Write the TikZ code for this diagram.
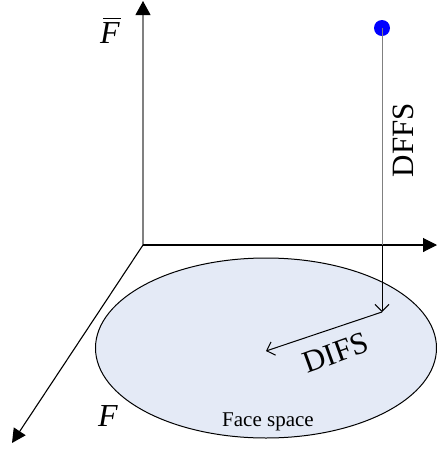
\documentclass[tikz,border=0pt]{standalone}
\usepackage{fontspec}
\setmainfont{Liberation Serif}
\usetikzlibrary{arrows.meta,shapes.geometric}
\definecolor{facefill}{RGB}{228,234,246}
\definecolor{axisgray}{RGB}{128,128,128}
\tikzset{
  axis/.style={line width=1.1pt,-{Triangle[length=14pt,width=14pt]}},
  meas/.style={line width=1pt,-{Straight Barb[length=7pt,width=14pt]}},
  lbl/.style={font=\fontsize{31}{34}\selectfont,inner sep=0pt},
  mlbl/.style={font=\fontsize{32}{34}\selectfont\itshape,inner sep=0pt},
}
\begin{document}
\begin{tikzpicture}[x=1pt,y=-1pt]
\useasboundingbox (0,0) rectangle (437,451);
\node[draw=black,line width=1pt,fill=facefill,ellipse,minimum width=341pt,minimum height=180pt,inner sep=0pt] (face) at (266,348) {};
\coordinate (O) at (143,245);
\coordinate (ytop) at (143,1);
\coordinate (xend) at (437,245);
\coordinate (zend) at (12,443);
\draw[line width=1.1pt,draw=axisgray,-{Triangle[length=14pt,width=15pt,fill=black,color=black]}] (O) -- (ytop);
\draw[axis] (O) -- (xend);
\draw[axis] (O) -- (zend);
\node[circle,fill=blue,minimum size=16pt,inner sep=0pt] (pt) at (382,28) {};
\coordinate (mid) at (382,245);
\coordinate (proj) at (382,312);
\coordinate (c) at (266,351);
\draw[line width=1pt,draw=axisgray] (pt.center) -- (mid);
\draw[meas] (mid) -- (proj);
\draw[meas] (proj) -- (c);
\node[lbl,rotate=90] (dffs) at (403,140) {DFFS};
\node[lbl,rotate=20] (difs) at (336,353) {DIFS};
\node[mlbl] (fbar) at (110,33) {F};
\draw[line width=1.2pt] ([xshift=3pt,yshift=4pt]fbar.north west) -- ([xshift=1pt,yshift=4pt]fbar.north east);
\node[mlbl] (f) at (108,416) {F};
\node[inner sep=0pt,font=\fontsize{21}{23}\selectfont] (fs) at (268,422) {Face space};
\end{tikzpicture}
\end{document}
